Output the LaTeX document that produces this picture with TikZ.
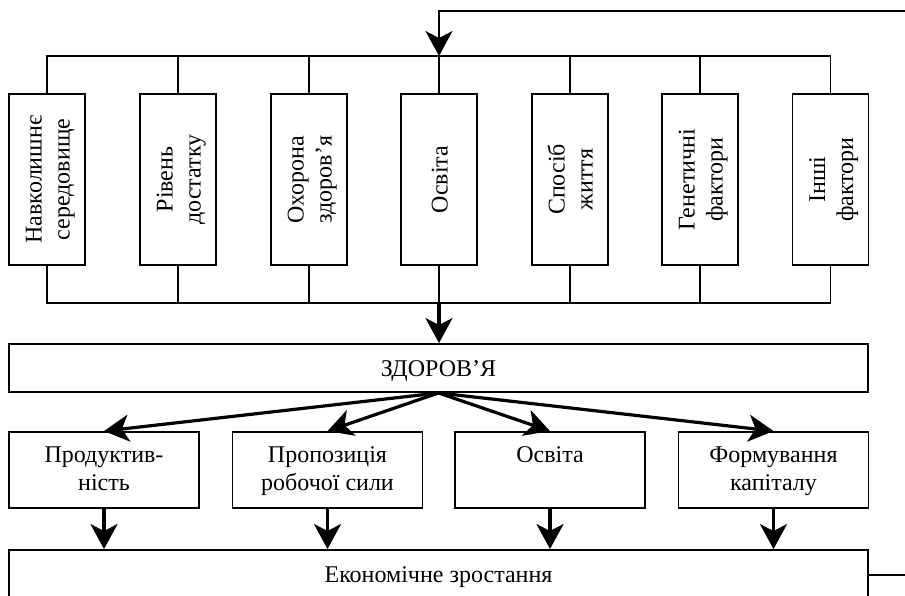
\documentclass[tikz,border=0pt]{standalone}
\usepackage{fontspec}
\setmainfont{Liberation Serif}
\usetikzlibrary{arrows.meta}
\begin{document}
\begin{tikzpicture}[x=1pt,y=-1pt,
  thinln/.style={line width=1.7pt},
  thickln/.style={line width=3.2pt},
  tipA/.style={-{Stealth[length=25pt,width=27pt,inset=7pt]}},
  vbox/.style={draw, line width=1.9pt, minimum width=76pt, minimum height=171pt, inner sep=0pt},
  vtext/.style={rotate=90, align=center, inner sep=0pt, font=\fontsize{24}{28}\selectfont},
  wbox/.style={draw, line width=1.9pt, minimum width=859pt, inner sep=0pt},
  rbox/.style={draw, line width=1.9pt, minimum width=190pt, minimum height=76pt, inner sep=0pt},
  htext/.style={align=center, inner sep=0pt, font=\fontsize{24}{28}\selectfont}
]
\useasboundingbox (0,0) rectangle (905,595);

% factor boxes
\node[vbox] (f1) at (47,179.5) {};
\node[vbox] (f2) at (178,179.5) {};
\node[vbox] (f3) at (309,179.5) {};
\node[vbox] (f4) at (439,179.5) {};
\node[vbox] (f5) at (570,179.5) {};
\node[vbox] (f6) at (700,179.5) {};
\node[vbox] (f7) at (830.5,179.5) {};

\node[vtext] (t1) at (50,179.5) {Навколишнє\strut\\середовище\strut};
\node[vtext] (t2) at (181,179.5) {Рівень\strut\\достатку\strut};
\node[vtext] (t3) at (312,179.5) {Охорона\strut\\здоров’я\strut};
\node[vtext] (t4) at (442,179.5) {Освіта\strut};
\node[vtext] (t5) at (573,179.5) {Спосіб\strut\\життя\strut};
\node[vtext] (t6) at (703,179.5) {Генетичні\strut\\фактори\strut};
\node[vtext] (t7) at (833.5,179.5) {Інші\strut\\фактори\strut};

% buses
\coordinate (tb) at (440,56);
\coordinate (bb) at (440,303);
\draw[thinln] (f1.north) |- (f7.north |- tb) -- (f7.north);
\foreach \i in {2,...,6} \draw[thinln] (f\i.north) -- (f\i.north |- tb);
\draw[thinln] (f1.south) |- (f7.south |- bb) -- (f7.south);
\foreach \i in {2,...,6} \draw[thinln] (f\i.south) -- (f\i.south |- bb);

% feedback top
\coordinate (fbTop) at (905,11);
\draw[thinln, tipA] (fbTop) -| (f4.north |- tb);

% health
\node[wbox, minimum height=48pt] (zd) at (438.5,368) {};
\node[htext, anchor=base] (zdt) at (438.5,376.5) {ЗДОРОВ’Я};
\draw[thickln, tipA] (f4.south |- bb) -- (f4.south |- zd.north);

% result boxes
\node[rbox] (rA) at (104,470) {};
\node[rbox] (rB) at (327.5,470) {};
\node[rbox] (rC) at (550,470) {};
\node[rbox] (rD) at (773.5,470) {};
\node[htext, anchor=north] (tA) at (104,442.4) {Продуктив-\strut\\ність\strut};
\node[htext, anchor=north] (tB) at (327.5,442.4) {Пропозиція\strut\\робочої сили\strut};
\node[htext, anchor=north] (tC) at (550,442.4) {Освіта\strut};
\node[htext, anchor=north] (tD) at (773.5,442.4) {Формування\strut\\капіталу\strut};

\foreach \r in {rA,rB,rC,rD} \draw[thickln, tipA] (zd.south) -- (\r.north);

% economic growth
\node[wbox, minimum height=47pt] (ec) at (438.5,573.5) {};
\node[htext, anchor=base] (ect) at (438.5,582) {Економічне зростання};
\foreach \r in {rA,rB,rC,rD} \draw[thickln, tipA] (\r.south) -- (\r.south |- ec.north);

\coordinate (fbBot) at (905,575);
\draw[thinln] (ec.east |- fbBot) -- (fbBot);
\end{tikzpicture}
\end{document}
